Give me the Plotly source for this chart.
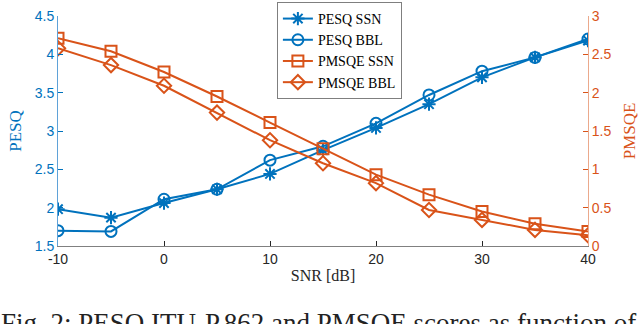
import plotly.graph_objects as go

snr = [-10, -5, 0, 5, 10, 15, 20, 25, 30, 35, 40]
pesq_ssn = [1.98, 1.87, 2.06, 2.24, 2.44, 2.75, 3.04, 3.35, 3.70, 3.96, 4.18]
pesq_bbl = [1.70, 1.69, 2.11, 2.24, 2.62, 2.80, 3.10, 3.47, 3.78, 3.96, 4.20]
pmsqe_ssn = [2.71, 2.54, 2.27, 1.95, 1.61, 1.27, 0.93, 0.67, 0.45, 0.29, 0.19]
pmsqe_bbl = [2.58, 2.36, 2.09, 1.74, 1.38, 1.08, 0.82, 0.47, 0.34, 0.21, 0.14]

x_ticks = [-10, 0, 10, 20, 30, 40]
pesq_ticks = [1.5, 2, 2.5, 3, 3.5, 4, 4.5]
pmsqe_ticks = [0, 0.5, 1, 1.5, 2, 2.5, 3]

BLUE = '#0072BD'
ORANGE = '#D95319'
SERIF = 'Liberation Serif, Times New Roman, serif'
SANS = 'Liberation Sans, Arial, sans-serif'

fig = go.Figure()

series = [
    ('PESQ SSN', pesq_ssn, BLUE, 'asterisk-open', 'y'),
    ('PESQ BBL', pesq_bbl, BLUE, 'circle-open', 'y'),
    ('PMSQE SSN', pmsqe_ssn, ORANGE, 'square-open', 'y2'),
    ('PMSQE BBL', pmsqe_bbl, ORANGE, 'diamond-open', 'y2'),
]
for name, vals, col, sym, ax in series:
    fig.add_trace(go.Scatter(
        x=snr, y=vals, name=name, yaxis=ax,
        mode='lines+markers',
        line=dict(color=col, width=2),
        marker=dict(symbol=sym, size=11, color=col, line=dict(color=col, width=2)),
    ))

fig.update_layout(
    width=640, height=324,
    margin=dict(l=58, r=52, t=16, b=78, autoexpand=False),
    paper_bgcolor='white', plot_bgcolor='white',
    showlegend=True,
    legend=dict(
        x=0.413, y=1.061, xanchor='left', yanchor='top',
        bgcolor='white', bordercolor='#7f7f7f', borderwidth=1,
        font=dict(family=SERIF, size=14, color='black'),
        tracegroupgap=0, itemwidth=30,
    ),
    xaxis=dict(
        range=[-10, 40], tickvals=x_ticks, ticktext=[str(v) for v in x_ticks],
        ticks='inside', ticklen=5, tickcolor='#262626',
        showline=True, linecolor='#808080', linewidth=1,
        showgrid=False, zeroline=False,
        tickfont=dict(family=SANS, size=14, color='#262626'),
        title=dict(text='SNR [dB]', font=dict(family=SERIF, size=16, color='#262626'), standoff=4),
    ),
    yaxis=dict(
        range=[1.5, 4.5], tickvals=pesq_ticks, ticktext=[f'{v:g}' for v in pesq_ticks],
        ticks='inside', ticklen=5, tickcolor=BLUE,
        showline=True, linecolor='#5fa2d8', linewidth=1,
        showgrid=False, zeroline=False,
        tickfont=dict(family=SANS, size=14, color=BLUE),
        title=dict(text='PESQ', font=dict(family=SERIF, size=17, color=BLUE), standoff=8),
    ),
    yaxis2=dict(
        range=[0, 3], tickvals=pmsqe_ticks, ticktext=[f'{v:g}' for v in pmsqe_ticks],
        overlaying='y', side='right',
        ticks='inside', ticklen=5, tickcolor=ORANGE,
        showline=True, linecolor='#eba98c', linewidth=1,
        showgrid=False, zeroline=False,
        tickfont=dict(family=SANS, size=14, color=ORANGE),
        title=dict(text='PMSQE', font=dict(family=SERIF, size=17, color=ORANGE), standoff=12),
    ),
)

fig.add_annotation(
    text='Fig. 2: PESQ ITU-P.862 and PMSQE scores as function of',
    xref='paper', yref='paper', x=-0.112, y=-0.262,
    xanchor='left', yanchor='top', showarrow=False,
    font=dict(family=SERIF, size=27, color='#222222'),
)

# drop the page's default body margin so the figure sits at the window's corner
fig.write_html("out.html", config={'displayModeBar': False},
               post_script="document.body.style.margin='0';")
